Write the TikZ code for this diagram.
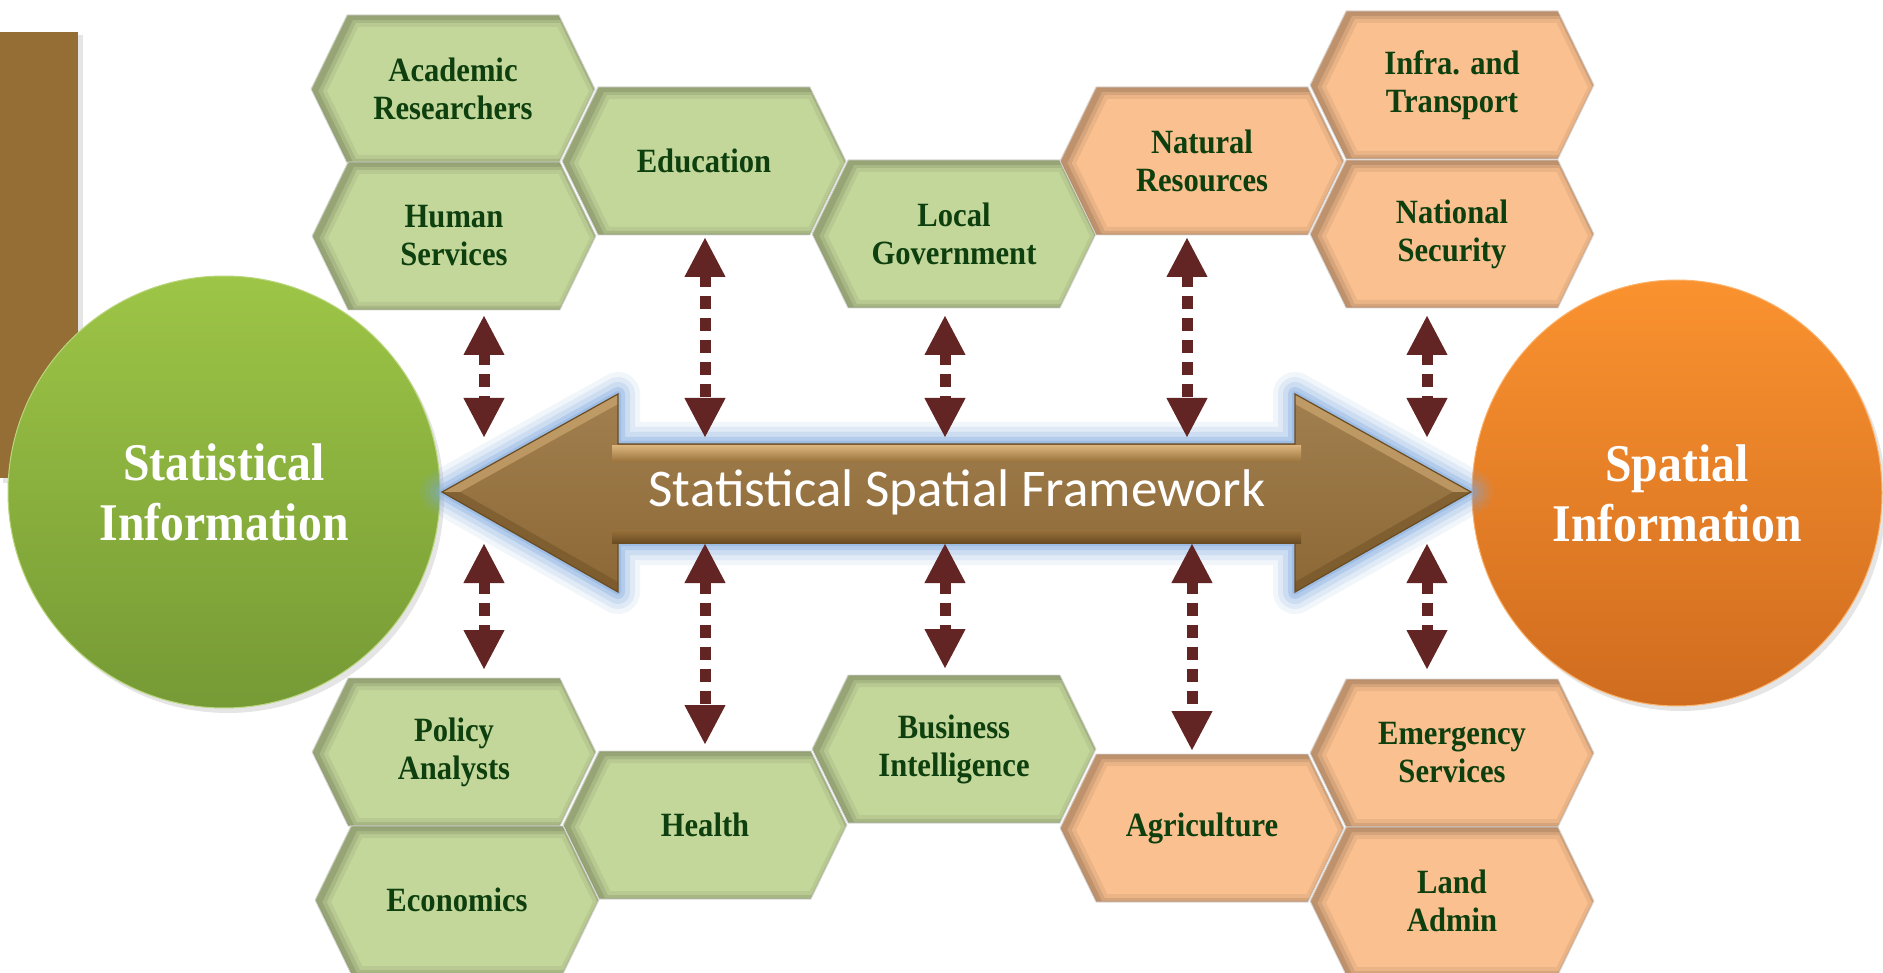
\documentclass[tikz,border=0pt]{standalone}
\usepackage{fontspec}
\newfontfamily\serifc[FakeStretch=0.9]{Liberation Serif}
\newfontfamily\carl{Carlito}
\usetikzlibrary{arrows.meta,shapes.geometric,shadows}
\definecolor{hexgreen}{HTML}{C4D79B}
\definecolor{hexorange}{HTML}{FAC090}
\definecolor{hextextc}{HTML}{0E3F0E}
\definecolor{maroon}{HTML}{632523}
\definecolor{rectbrown}{HTML}{946E34}
\definecolor{arrbrown}{HTML}{98713B}
\definecolor{arrlight}{HTML}{D8B27A}
\definecolor{arrdark}{HTML}{6A4C22}
\definecolor{glowblue}{HTML}{7FA8DE}
\definecolor{grnT}{HTML}{9DC546}
\definecolor{grnB}{HTML}{769A35}
\definecolor{orgT}{HTML}{FA922F}
\definecolor{orgB}{HTML}{D06C1F}
\newcommand\hexp[2]{(#1-142,#2) -- (#1-106,#2-74) -- (#1+106,#2-74) -- (#1+142,#2) -- (#1+106,#2+74) -- (#1-106,#2+74) -- cycle}
\newcommand\arrowpath{(442,492) -- (618,394) -- (618,444) -- (1295,444) -- (1295,394) -- (1471,492) -- (1295,592) -- (1295,543) -- (618,543) -- (618,592) -- cycle}
\newcommand\hexa[5]{%
  \begin{scope}
    \fill[#4] \hexp{#2}{#3};
    \begin{scope}
      \clip \hexp{#2}{#3};
      \draw[shift={(5,2)}, line width=20pt, draw=#4!50!black, opacity=0.12] \hexp{#2}{#3};
      \draw[shift={(5,2)}, line width=12pt, draw=#4!50!black, opacity=0.18] \hexp{#2}{#3};
      \draw[shift={(4,2)}, line width=6pt, draw=#4!50!black, opacity=0.25] \hexp{#2}{#3};
      \draw[line width=3pt, draw=#4!60!black, opacity=0.15] \hexp{#2}{#3};
    \end{scope}
    \draw[line width=0.8pt, draw=gray!30] \hexp{#2}{#3};
  \end{scope}
  \node[hextext] (#1) at (#2,#3) {#5};
}
\begin{document}
\begin{tikzpicture}[x=1pt,y=-1pt,
  hextext/.style={font=\serifc\bfseries\fontsize{34}{38}\selectfont, text=hextextc, align=center, inner sep=0pt},
  bigtext/.style={font=\serifc\bfseries\fontsize{53}{60}\selectfont, text=white, align=center},
  dbl/.style={line width=11pt, draw=maroon, dash pattern=on 13pt off 9pt,
    {Triangle[width=38pt,length=40pt]}-{Triangle[width=38pt,length=40pt]}}]
\useasboundingbox (0,0) rectangle (1883,973);
\fill[white] (0,0) rectangle (1883,973);

% brown bar at left
\fill[black, opacity=0.10] (3,35) rectangle (83,483);
\fill[rectbrown] (0,32) rectangle (78,478);

% circles
\node[circle, minimum size=432pt, inner sep=0pt, top color=grnT, bottom color=grnB,
  draw=grnT!70!white, line width=1pt,
  drop shadow={shadow xshift=4pt, shadow yshift=-5pt, opacity=0.2},
  bigtext] (stat) at (224,492) {Statistical\\Information};
\node[ellipse, minimum width=410pt, minimum height=426pt, inner sep=0pt, top color=orgT, bottom color=orgB,
  draw=orgT!70!white, line width=1pt,
  drop shadow={shadow xshift=4pt, shadow yshift=-5pt, opacity=0.2},
  bigtext] (spat) at (1677,493) {Spatial\\Information};

% hexagons (green)
\hexa{acad}{453}{89}{hexgreen}{Academic\\Researchers}
\hexa{human}{454}{236}{hexgreen}{Human\\Services}
\hexa{edu}{704}{161}{hexgreen}{Education}
\hexa{locgov}{954}{234}{hexgreen}{Local\\Government}
\hexa{policy}{454}{752}{hexgreen}{Policy\\Analysts}
\hexa{econ}{457}{900}{hexgreen}{Economics}
\hexa{health}{705}{825}{hexgreen}{Health}
\hexa{busint}{954}{749}{hexgreen}{Business\\Intelligence}
% hexagons (orange)
\hexa{natres}{1202}{161}{hexorange}{Natural\\Resources}
\hexa{infra}{1452}{85}{hexorange}{Infra. and\\Transport}
\hexa{natsec}{1452}{234}{hexorange}{National\\Security}
\hexa{agri}{1202}{828}{hexorange}{Agriculture}
\hexa{emerg}{1452}{753}{hexorange}{Emergency\\Services}
\hexa{land}{1452}{901}{hexorange}{Land\\Admin}

% big double arrow: glow
\foreach \w/\o in {44/0.10, 34/0.14, 24/0.20, 14/0.30, 6/0.40}
  \draw[glowblue, line width=\w pt, opacity=\o, line join=round] \arrowpath;
\shade[top color=arrbrown!90!white, bottom color=arrbrown!92!black] \arrowpath;
% bevels on heads
\fill[arrlight, opacity=0.55] (442,492) -- (618,394) -- (618,404) -- (460,492) -- cycle;
\fill[arrdark, opacity=0.45] (442,492) -- (618,592) -- (618,582) -- (460,492) -- cycle;
\fill[arrlight, opacity=0.55] (1471,492) -- (1295,394) -- (1295,404) -- (1453,492) -- cycle;
\fill[arrdark, opacity=0.45] (1471,492) -- (1295,592) -- (1295,582) -- (1453,492) -- cycle;
% highlight strips on shaft
\shade[top color=arrlight, bottom color=arrbrown] (612,446) rectangle (1301,462);
\shade[top color=arrbrown, bottom color=arrdark] (612,530) rectangle (1301,543);
\draw[arrdark, line width=1.2pt, line join=miter] \arrowpath;
\node[font=\carl\fontsize{53}{60}\selectfont, text=white] (ssf) at (957,492) {Statistical Spatial Framework};

% dashed double arrows
\coordinate (t1a) at (484,315); \coordinate (t1b) at (484,438);
\coordinate (t2a) at (705,237); \coordinate (t2b) at (705,438);
\coordinate (t3a) at (945,315); \coordinate (t3b) at (945,438);
\coordinate (t4a) at (1187,237); \coordinate (t4b) at (1187,438);
\coordinate (t5a) at (1427,315); \coordinate (t5b) at (1427,438);
\coordinate (b1a) at (484,543); \coordinate (b1b) at (484,670);
\coordinate (b2a) at (705,543); \coordinate (b2b) at (705,745);
\coordinate (b3a) at (945,543); \coordinate (b3b) at (945,669);
\coordinate (b4a) at (1192,543); \coordinate (b4b) at (1192,751);
\coordinate (b5a) at (1427,543); \coordinate (b5b) at (1427,670);
\foreach \p in {t1,t2,t3,t4,t5,b1,b2,b3,b4,b5}
  \draw[dbl] (\p a) -- (\p b);
\end{tikzpicture}
\end{document}
